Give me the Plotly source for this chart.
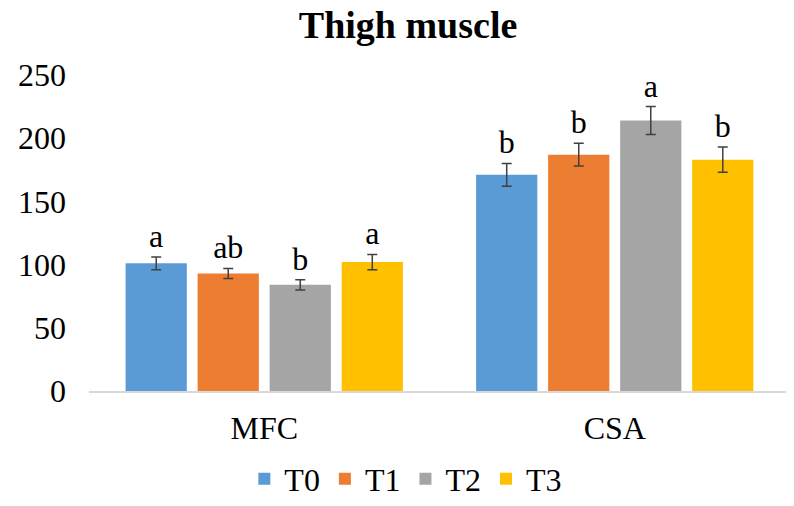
import plotly.graph_objects as go

categories = ["MFC", "CSA"]
groups = ["T0", "T1", "T2", "T3"]
values = {
    "T0": [101, 171],
    "T1": [93, 187],
    "T2": [84, 214],
    "T3": [102, 183],
}
errors = {
    "T0": [5, 9],
    "T1": [4, 9],
    "T2": [4, 11],
    "T3": [6, 10],
}
letters = {
    "T0": ["a", "b"],
    "T1": ["ab", "b"],
    "T2": ["b", "a"],
    "T3": ["a", "b"],
}
colors = {"T0": "#5B9BD5", "T1": "#ED7D31", "T2": "#A5A5A5", "T3": "#FFC000"}

font_family = "Liberation Serif, Times New Roman, serif"

fig = go.Figure()
for g in groups:
    fig.add_trace(go.Bar(
        x=categories, y=values[g], name=g, offsetgroup=g,
        marker=dict(color=colors[g], line=dict(width=0)),
        error_y=dict(type="data", array=errors[g], color="#404040",
                     thickness=1.5, width=5),
    ))
# letters above the error bars, as transparent bars in the same slot
for g in groups:
    tops = [v + e for v, e in zip(values[g], errors[g])]
    fig.add_trace(go.Bar(
        x=categories, y=tops, offsetgroup=g, showlegend=False,
        marker=dict(color="rgba(0,0,0,0)", line=dict(width=0)),
        text=letters[g], textposition="outside", constraintext="none",
        textfont=dict(family=font_family, size=32, color="#000000"),
        cliponaxis=False, hoverinfo="skip",
    ))

# page body has an 8px margin, so the figure is a bit smaller
fig.update_layout(
    width=786, height=498,
    barmode="group", bargap=0.178, bargroupgap=0.15,
    plot_bgcolor="white", paper_bgcolor="white",
    margin=dict(l=81, r=4, t=67, b=115, autoexpand=False),
    font=dict(family=font_family, size=32, color="#000000"),
    title=dict(text="<b>Thigh muscle</b>", x=0.509, y=0.966,
               xanchor="center", yanchor="middle",
               font=dict(family=font_family, size=38, color="#000000")),
    legend=dict(orientation="h", x=0.452, xanchor="center",
                y=-0.278, yanchor="middle", bgcolor="rgba(0,0,0,0)",
                font=dict(family=font_family, size=32),
                itemwidth=30, traceorder="normal"),
    showlegend=True,
)
fig.update_yaxes(range=[0, 250], tickvals=[0, 50, 100, 150, 200, 250],
                 showgrid=False, showline=False, zeroline=False,
                 ticklabelstandoff=22, automargin=False,
                 tickfont=dict(family=font_family, size=32, color="#000000"))
fig.update_xaxes(showline=True, linecolor="#D9D9D9", linewidth=1.5,
                 showgrid=False, ticks="", ticklabelstandoff=8, automargin=False,
                 tickfont=dict(family=font_family, size=32, color="#000000"))

fig.write_html("out.html")
